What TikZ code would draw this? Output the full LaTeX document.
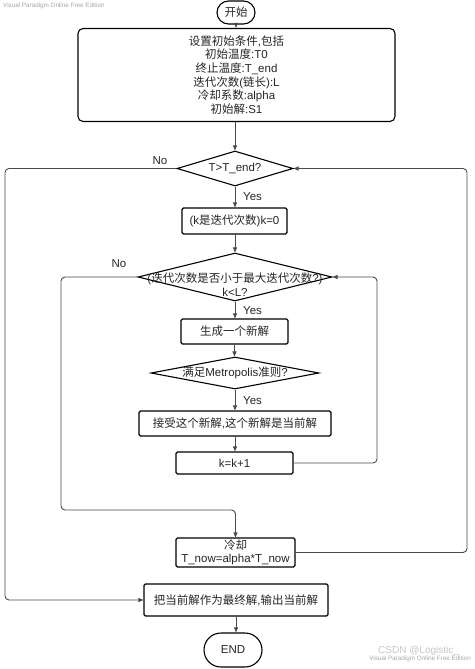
\documentclass[tikz,border=0pt]{standalone}
\usepackage{fontspec}
\setmainfont{Liberation Sans}
\newfontfamily\zhfont{Noto Sans CJK SC}
\newcommand{\zh}[1]{{\zhfont #1}}
\usetikzlibrary{shapes.geometric,shapes.misc,arrows.meta}
\definecolor{linegray}{HTML}{4A4A4A}
\definecolor{txt}{HTML}{262626}
\tikzset{
  every node/.style={font=\fontsize{11.5}{13.7}\selectfont, text=txt},
  procbox/.style={draw=black, line width=1.1pt, rectangle, rounded corners=1.5pt, inner sep=0pt, align=center},
  termbox/.style={draw=black, line width=1.1pt, rounded rectangle, inner sep=0pt},
  decbox/.style={draw=black, line width=1.1pt, diamond, inner sep=0pt},
  conn/.style={draw=linegray, line width=0.9pt, -{Triangle[length=5pt,width=4pt]}},
  loopconn/.style={conn, rounded corners=4pt},
  lbl/.style={font=\fontsize{11.5}{13.7}\selectfont, inner sep=0pt},
  wm/.style={text=gray!70, inner sep=0pt}
}
\begin{document}
\begin{tikzpicture}[x=1pt, y=-1pt]
\path[use as bounding box, fill=white] (0,0) rectangle (474,669);

% watermarks
\node[wm, font=\fontsize{6.3}{7}\selectfont, anchor=west] (wm1) at (3,6) {Visual Paradigm Online Free Edition};
\node[wm, text=gray!45, font=\fontsize{10}{11}\selectfont, anchor=west] (wm2) at (378,651) {CSDN @Logistic\_};
\node[wm, font=\fontsize{6.3}{7}\selectfont, anchor=east] (wm3) at (471,659) {Visual Paradigm Online Free Edition};

% nodes
\node[termbox, minimum width=38pt, minimum height=23pt] (start) at (236,12.5) {\zh{开始}};
\node[procbox, rounded corners=5pt, minimum width=317pt, minimum height=93pt] (setup) at (236.5,75)
  {\zh{设置初始条件},\zh{包括}\\ \zh{初始温度}:T0\\ \zh{终止温度}:T\_end\\ \zh{迭代次数}(\zh{链长}):L\\ \zh{冷却系数}:alpha\\ \zh{初始解}:S1};
\node[decbox, minimum width=116pt, minimum height=35pt,
  label={[lbl]center:T>T\_end?}] (d1) at (235,168.5) {};
\node[procbox, minimum width=105pt, minimum height=26pt] (k0) at (234.5,221) {(k\zh{是迭代次数})k=0};
\node[decbox, minimum width=194pt, minimum height=48pt,
  label={[lbl, align=center, yshift=-8pt]center:(\zh{迭代次数是否小于最大迭代次数}?)\\k<L?}] (d2) at (235,277) {};
\node[procbox, minimum width=107pt, minimum height=25pt] (gen) at (234.5,331.5) {\zh{生成一个新解}};
\node[decbox, minimum width=168pt, minimum height=32pt,
  label={[lbl]center:\zh{满足}Metropolis\zh{准则}?}] (d3) at (235,373) {};
\node[procbox, minimum width=192pt, minimum height=25pt] (acc) at (235,423.5) {\zh{接受这个新解},\zh{这个新解是当前解}};
\node[procbox, minimum width=117pt, minimum height=22pt] (inc) at (234.5,463) {k=k+1};
\node[procbox, minimum width=119pt, minimum height=29pt] (cool) at (235.5,552.5) {\zh{冷却}\\T\_now=alpha*T\_now};
\node[procbox, minimum width=184pt, minimum height=32pt] (final) at (236,600) {\zh{把当前解作为最终解},\zh{输出当前解}};
\node[termbox, minimum width=58pt, minimum height=34pt] (end) at (233,650) {END};

% helper coordinates
\coordinate (r1) at (467,168.5);
\coordinate (l1) at (5,600);
\coordinate (r2) at (377,277);
\coordinate (l2) at (61,510);

% straight connectors
\draw[conn] (start.south) -- (start.south |- setup.north);
\draw[conn] (setup.south -| d1.north) -- (d1.north);
\draw[conn] (d1.south) -- (d1.south |- k0.north);
\draw[conn] (k0.south) -- (k0.south -| d2.north) -- (d2.north);
\draw[conn] (d2.south) -- (d2.south |- gen.north);
\draw[conn] (gen.south) -- (gen.south |- d3.north);
\draw[conn] (d3.south) -- (d3.south |- acc.north);
\draw[conn] (acc.south) -- (acc.south |- inc.north);
\draw[conn] (final.south) -- (final.south |- end.north);

% loops
\draw[loopconn] (inc.east) -| (r2) -- (d2.east);
\draw[loopconn] (cool.east) -| (r1) -- (d1.east);
\draw[loopconn] (d2.west) -| (l2) -| (cool.north);
\draw[loopconn] (d1.west) -| (l1) -- (final.west);

% labels
\node[lbl, anchor=west] (y1) at (243,197) {Yes};
\node[lbl, anchor=west] (y2) at (243,311) {Yes};
\node[lbl, anchor=west] (y3) at (243,401) {Yes};
\node[lbl] (n1) at (160,161) {No};
\node[lbl] (n2) at (119,264) {No};
\end{tikzpicture}
\end{document}
